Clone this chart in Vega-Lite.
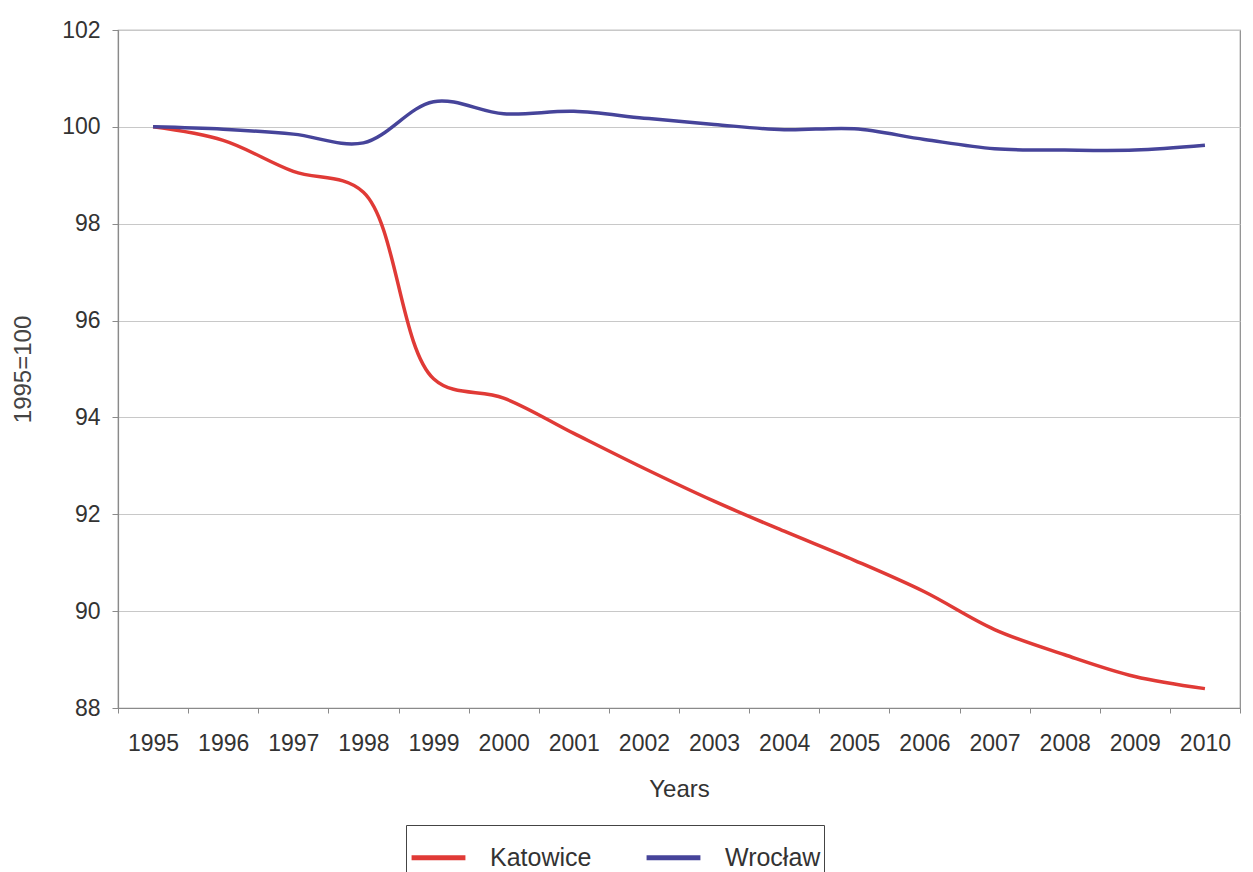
{
  "$schema": "https://vega.github.io/schema/vega-lite/v6.json",
  "autosize": {"type": "none"},
  "width": 1122,
  "height": 678,
  "padding": {"left": 118, "top": 30, "right": 13, "bottom": 164},
  "background": "white",
  "config": {
    "font": "Liberation Sans",
    "view": {"stroke": "#8a8a8a", "strokeWidth": 1.2}
  },
  "data": {
    "values": [
      {"year": "1995", "city": "Katowice", "value": 100.0},
      {"year": "1996", "city": "Katowice", "value": 99.72},
      {"year": "1997", "city": "Katowice", "value": 99.08},
      {"year": "1998", "city": "Katowice", "value": 98.65},
      {"year": "1999", "city": "Katowice", "value": 94.8},
      {"year": "2000", "city": "Katowice", "value": 94.4},
      {"year": "2001", "city": "Katowice", "value": 93.67},
      {"year": "2002", "city": "Katowice", "value": 92.95},
      {"year": "2003", "city": "Katowice", "value": 92.27},
      {"year": "2004", "city": "Katowice", "value": 91.65},
      {"year": "2005", "city": "Katowice", "value": 91.05},
      {"year": "2006", "city": "Katowice", "value": 90.4},
      {"year": "2007", "city": "Katowice", "value": 89.62},
      {"year": "2008", "city": "Katowice", "value": 89.1},
      {"year": "2009", "city": "Katowice", "value": 88.65},
      {"year": "2010", "city": "Katowice", "value": 88.4},
      {"year": "1995", "city": "Wrocław", "value": 100.0},
      {"year": "1996", "city": "Wrocław", "value": 99.95},
      {"year": "1997", "city": "Wrocław", "value": 99.85},
      {"year": "1998", "city": "Wrocław", "value": 99.67},
      {"year": "1999", "city": "Wrocław", "value": 100.52},
      {"year": "2000", "city": "Wrocław", "value": 100.27},
      {"year": "2001", "city": "Wrocław", "value": 100.32},
      {"year": "2002", "city": "Wrocław", "value": 100.18},
      {"year": "2003", "city": "Wrocław", "value": 100.05},
      {"year": "2004", "city": "Wrocław", "value": 99.94},
      {"year": "2005", "city": "Wrocław", "value": 99.96},
      {"year": "2006", "city": "Wrocław", "value": 99.74},
      {"year": "2007", "city": "Wrocław", "value": 99.55},
      {"year": "2008", "city": "Wrocław", "value": 99.52},
      {"year": "2009", "city": "Wrocław", "value": 99.52},
      {"year": "2010", "city": "Wrocław", "value": 99.62}
    ]
  },
  "mark": {"type": "line", "interpolate": "catmull-rom", "strokeWidth": 3.5},
  "encoding": {
    "x": {
      "field": "year",
      "type": "ordinal",
      "bandPosition": 0.5,
      "scale": {"type": "band", "paddingInner": 0, "paddingOuter": 0},
      "axis": {
        "title": "Years",
        "labelAngle": 0,
        "labelFontSize": 23,
        "labelColor": "#333333",
        "labelPadding": 19,
        "tickBand": "extent",
        "ticks": true,
        "tickSize": 5,
        "tickColor": "#8a8a8a",
        "domainColor": "#8a8a8a",
        "domainWidth": 1.2,
        "grid": false,
        "titleFontSize": 24,
        "titleFontWeight": "normal",
        "titleColor": "#333333",
        "titlePadding": 22
      }
    },
    "y": {
      "field": "value",
      "type": "quantitative",
      "scale": {"domain": [88, 102], "nice": false, "zero": false},
      "axis": {
        "title": "1995=100",
        "values": [88, 90, 92, 94, 96, 98, 100, 102],
        "labelFontSize": 23,
        "labelColor": "#333333",
        "labelPadding": 12,
        "tickSize": 6,
        "tickColor": "#8a8a8a",
        "domainColor": "#8a8a8a",
        "domainWidth": 1.2,
        "grid": true,
        "gridColor": "#c8c8c8",
        "gridWidth": 1,
        "titleFontSize": 24,
        "titleFontWeight": "normal",
        "titleColor": "#444444",
        "titlePadding": 26
      }
    },
    "color": {
      "field": "city",
      "type": "nominal",
      "scale": {"domain": ["Katowice", "Wrocław"], "range": ["#e03a36", "#46449a"]},
      "legend": {
        "title": null,
        "orient": "none",
        "direction": "horizontal",
        "legendX": 288,
        "legendY": 795,
        "symbolType": "stroke",
        "symbolStrokeWidth": 5,
        "symbolSize": 2900,
        "labelFontSize": 25,
        "labelColor": "#333333",
        "labelOffset": 22,
        "columnPadding": 44,
        "strokeColor": "#444444",
        "padding": 3,
        "fillColor": "white"
      }
    }
  }
}
